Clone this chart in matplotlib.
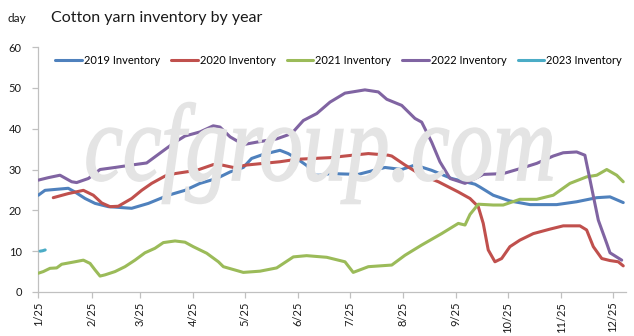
import matplotlib
matplotlib.use('Agg')
from matplotlib import pyplot as plt
from matplotlib.textpath import TextPath
from matplotlib.patches import PathPatch
from matplotlib.font_manager import FontProperties
from matplotlib.transforms import Affine2D

plt.rcParams['font.family'] = ['Lato', 'DejaVu Sans']

# x axis: days counted from 1/25
tick_days = [0, 31, 59, 90, 120, 151, 181, 212, 243, 273, 304, 334]
tick_labels = ['1/25', '2/25', '3/25', '4/25', '5/25', '6/25',
               '7/25', '8/25', '9/25', '10/25', '11/25', '12/25']

days_2019 = [0, 3.9, 17.4, 21.3, 27.2, 33, 40.7, 54.3, 64, 75.6, 85.3, 94, 103.7, 111.5,
             119.2, 124, 130.8, 140.5, 145.3, 150.2, 156, 160.9, 163.8, 169.6, 186, 201.6,
             211.3, 219, 228.7, 240.3, 248, 253.9, 256.8, 264.5, 274.2, 285.9, 301.4, 313,
             324.7, 332.4, 340.1]
inv_2019 = [23.7, 24.9, 25.4, 24.5, 22.9, 21.7, 20.9, 20.5, 21.7, 23.7, 24.9, 26.6, 27.8, 29.4,
            30.5, 32.7, 33.7, 34.7, 33.9, 32.7, 31.0, 28.6, 28.6, 29.0, 28.8, 30.5,
            30.0, 31.1, 29.8, 27.8, 27.0, 26.4, 25.7, 23.7, 22.3, 21.4, 21.4, 22.1,
            23.1, 23.3, 21.9]

days_2020 = [8.7, 17.4, 26.2, 32, 36.9, 41.7, 46.5, 54.3, 60.1, 65.9, 73.7, 79.5, 92.1, 101.7,
             105.6, 113.4, 121.2, 140.5, 150.2, 159.9, 169.6, 178.3, 191.9, 203.5, 205.5,
             213.2, 222.9, 232.6, 244.2, 251, 255.8, 258.7, 261.6, 265.5, 269.4, 274.2, 280,
             287.8, 297.5, 305.2, 314.9, 318.8, 322.7, 327.6, 332.4, 337.2, 340.1]
inv_2020 = [23.1, 24.1, 24.9, 23.7, 21.8, 20.9, 21.0, 22.9, 24.9, 26.6, 28.4, 29.0, 29.8, 31.2,
            31.2, 30.5, 31.1, 31.9, 32.5, 32.7, 32.9, 33.3, 33.9, 33.5, 33.3,
            31.1, 28.6, 27.0, 24.5, 22.9, 20.9, 16.8, 10.3, 7.4, 8.2, 11.1, 12.7,
            14.3, 15.4, 16.2, 16.2, 15.2, 11.1, 8.2, 7.7, 7.4, 6.4]

days_2021 = [0, 2.9, 6.8, 10.7, 13.6, 21.3, 26.2, 30.1, 33, 35.9, 38.8, 44.6, 50.4, 56.2, 62,
             67.8, 72.7, 79.5, 85.3, 90.1, 97.9, 104.7, 107.6, 119.2, 128.9, 138.6, 148.3,
             156, 167.7, 178.3, 183.1, 191.9, 205.5, 213.2, 222.9, 234.5, 244.2, 248.1, 251,
             255.8, 264.5, 270.3, 280, 289.8, 299.4, 309.1, 318.8, 324.7, 330.5, 336.3, 340.1]
inv_2021 = [4.6, 5.0, 5.8, 5.9, 6.8, 7.4, 7.8, 7.0, 5.4, 3.9, 4.2, 5.0, 6.2, 7.8, 9.6,
            10.7, 12.1, 12.5, 12.2, 11.1, 9.5, 7.4, 6.2, 4.8, 5.1, 5.9, 8.6,
            8.9, 8.5, 7.4, 4.8, 6.2, 6.6, 9.0, 11.5, 14.3, 16.8, 16.4, 19.0,
            21.5, 21.3, 21.3, 22.7, 22.7, 23.7, 26.6, 28.2, 28.6, 30.0, 28.6, 27.0]

days_2022 = [0, 5.8, 12.6, 19.4, 22.3, 29.1, 35.9, 44.6, 54.3, 63, 71.7, 79.5, 85.3, 94, 101.7,
             105.6, 111.5, 119.2, 127, 138.6, 147.3, 154.1, 161.9, 169.6, 178.3, 189.9,
             197.7, 202.6, 211.3, 219, 222.9, 228.7, 233.5, 239.4, 248.1, 253.9, 258.7,
             270.3, 280, 289.8, 299.4, 305.2, 313, 317.8, 320.8, 325.6, 330.5, 332.4, 339.2]
inv_2022 = [27.4, 28.0, 28.6, 27.0, 26.8, 27.8, 30.0, 30.5, 31.1, 31.6, 34.3, 36.7, 38.2, 39.2, 40.7,
            40.4, 38.0, 36.1, 36.7, 37.5, 38.8, 42.0, 43.7, 46.5, 48.7, 49.5,
            49.0, 47.2, 45.7, 42.5, 41.6, 36.7, 31.9, 27.8, 26.6, 27.8, 28.8,
            29.0, 30.2, 31.5, 33.3, 34.1, 34.3, 33.5, 27.4, 17.6, 11.9, 9.6, 7.8]

days_2023 = [1, 2.5, 4]
inv_2023 = [10.0, 10.1, 10.3]

series = [
    ('2019 Inventory', days_2019, inv_2019, '#4F81BD'),
    ('2020 Inventory', days_2020, inv_2020, '#C0504D'),
    ('2021 Inventory', days_2021, inv_2021, '#9BBB59'),
    ('2022 Inventory', days_2022, inv_2022, '#8064A2'),
    ('2023 Inventory', days_2023, inv_2023, '#4BACC6'),
]

fig = plt.figure(figsize=(6.34, 3.36), dpi=100)
ax = fig.add_axes([38.3 / 634, 1 - 292 / 336, (626 - 38.3) / 634, (292 - 47) / 336])

# watermark
tp = TextPath((0, 0), 'ccfgroup.com', size=1,
              prop=FontProperties(family='Liberation Serif', style='italic'))
bb = tp.get_extents()
sx = 465 / bb.width
sy = 110
wm_tr = Affine2D().translate(-bb.x0, 0).scale(sx / 634, sy / 336).translate(87 / 634, (336 - 180) / 336)
fig.patches.append(PathPatch(tp, transform=wm_tr + fig.transFigure,
                             facecolor='#e4e4e4', edgecolor='#e4e4e4', linewidth=1.2, zorder=0))

for name, d, v, c in series:
    ax.plot(d, v, color=c, linewidth=2.2, label=name, solid_capstyle='round', zorder=3)

ax.set_xlim(0, 341.7)
ax.set_ylim(0, 60)
ax.set_yticks(range(0, 61, 10))
ax.set_xticks(tick_days)
ax.set_xticklabels(tick_labels, rotation=90)
ax.patch.set_alpha(0)

for s in ['top', 'right']:
    ax.spines[s].set_visible(False)
for s in ['left', 'bottom']:
    ax.spines[s].set_color('#c0c0c0')
    ax.spines[s].set_linewidth(0.9)
ax.tick_params(axis='both', colors='#c0c0c0', length=4, width=0.9, labelcolor='#1a1a1a', labelsize=8)
ax.tick_params(axis='y', pad=8)
ax.tick_params(axis='x', pad=3)

ax.legend(loc='center left', bbox_to_anchor=(55 / 634, 1 - 60.7 / 336), bbox_transform=fig.transFigure,
          ncol=5, frameon=False, fontsize=8, handlelength=2.4, handletextpad=0.18,
          columnspacing=1.0, borderpad=0, borderaxespad=0)

fig.text(51 / 634, 1 - 18 / 336, 'Cotton yarn inventory by year', fontsize=11.5, va='center', color='#1a1a1a')
fig.text(8 / 634, 1 - 19 / 336, 'day', fontsize=8.5, va='center', color='#1a1a1a')

plt.savefig('out.png', dpi=100)
plt.close()
